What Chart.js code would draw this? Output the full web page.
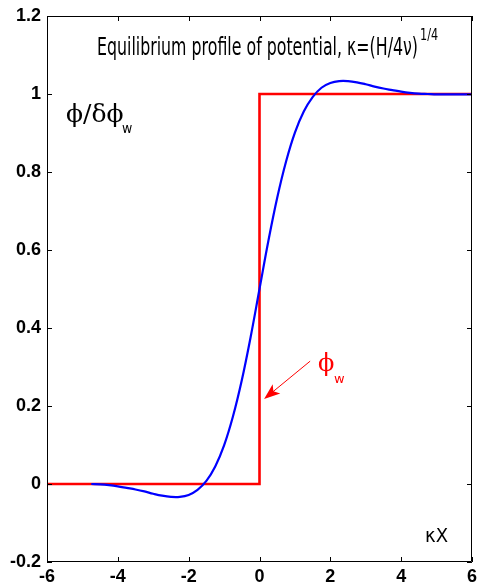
<!DOCTYPE html>
<html>
<head>
<meta charset="utf-8">
<script src="https://cdn.jsdelivr.net/npm/chart.js@4/dist/chart.umd.min.js"></script>
<style>
  html, body { margin: 0; padding: 0; background: #fff; }
  #wrap { width: 478px; height: 584px; }
</style>
</head>
<body>
<div id="wrap"><canvas id="chart"></canvas></div>
<script>
// Blue curve: potential profile
const profileX = [-4.75, -4.5, -4.25, -4, -3.75, -3.5, -3.25, -3, -2.75, -2.5, -2.25, -2, -1.75, -1.5, -1.25, -1, -0.75, -0.5, -0.25,
                  0, 0.25, 0.5, 0.75, 1, 1.25, 1.5, 1.75, 2, 2.25, 2.5, 2.75, 3, 3.25, 3.5, 3.75, 4, 4.25, 4.5, 4.75, 5, 5.5, 6];
const profileY = [0.000, -0.001, -0.003, -0.006, -0.010, -0.014, -0.019, -0.025, -0.030, -0.033, -0.033, -0.028, -0.015, 0.008, 0.045, 0.099, 0.173, 0.266, 0.377,
                  0.500, 0.623, 0.734, 0.827, 0.901, 0.955, 0.992, 1.016, 1.028, 1.033, 1.033, 1.030, 1.025, 1.019, 1.014, 1.010, 1.006, 1.003, 1.001, 1.000, 0.999, 0.999, 0.999];

// Red step: wall potential
const stepX = [-6, 0, 0, 6];
const stepY = [0, 0, 1, 1];

const xTicks = [-6, -4, -2, 0, 2, 4, 6];
const yTicks = [-0.2, 0, 0.2, 0.4, 0.6, 0.8, 1, 1.2];
const xTickLabels = ['-6', '-4', '-2', '0', '2', '4', '6'];
const yTickLabels = ['-0.2', '0', '0.2', '0.4', '0.6', '0.8', '1', '1.2'];

const toPoints = (xs, ys) => xs.map((x, i) => ({ x: x, y: ys[i] }));

// box, inward tick marks on all four sides, tick labels and the text labels
const decorations = {
    id: 'decorations',
    afterDraw(chart) {
        const ctx = chart.ctx;
        const a = chart.chartArea;
        const sx = chart.scales.x, sy = chart.scales.y;
        ctx.save();
        ctx.strokeStyle = '#000';
        ctx.lineWidth = 1;
        ctx.beginPath();
        ctx.rect(a.left + 0.5, a.top + 0.5, a.right - a.left - 1, a.bottom - a.top - 1);
        xTicks.forEach(v => {
            const px = Math.round(sx.getPixelForValue(v)) + 0.5;
            ctx.moveTo(px, a.bottom); ctx.lineTo(px, a.bottom - 5);
            ctx.moveTo(px, a.top); ctx.lineTo(px, a.top + 5);
        });
        yTicks.forEach(v => {
            const py = Math.round(sy.getPixelForValue(v)) + 0.5;
            ctx.moveTo(a.left, py); ctx.lineTo(a.left + 5, py);
            ctx.moveTo(a.right, py); ctx.lineTo(a.right - 5, py);
        });
        ctx.stroke();

        // tick labels
        ctx.fillStyle = '#000';
        ctx.font = 'bold 18px "Liberation Sans"';
        ctx.textAlign = 'right';
        ctx.textBaseline = 'middle';
        yTicks.forEach((v, i) => {
            ctx.fillText(yTickLabels[i], a.left - 6, sy.getPixelForValue(v));
        });
        ctx.textAlign = 'center';
        ctx.textBaseline = 'alphabetic';
        xTicks.forEach((v, i) => {
            ctx.fillText(xTickLabels[i], sx.getPixelForValue(v), a.bottom + 20);
        });
        ctx.textAlign = 'left';

        // title, condensed
        ctx.font = '25px "DejaVu Sans"';
        const title = 'Equilibrium profile of potential, \u03ba=(H/4\u03bd)';
        const w = ctx.measureText(title).width;
        const target = 321;
        ctx.save();
        ctx.translate(97, 55);
        ctx.scale(target / w, 1);
        ctx.fillText(title, 0, 0);
        ctx.restore();
        ctx.save();
        ctx.font = '15px "DejaVu Sans"';
        ctx.translate(420, 40);
        ctx.scale(0.75, 1);
        ctx.fillText('1/4', 0, 0);
        ctx.restore();

        // y label
        ctx.font = '25px "DejaVu Serif"';
        ctx.fillText('\u03d5/\u03b4\u03d5', 66, 122);
        ctx.font = '14px "DejaVu Sans"';
        ctx.save();
        ctx.translate(122, 133);
        ctx.scale(0.9, 1);
        ctx.fillText('w', 0, 0);
        ctx.restore();

        // x label
        ctx.font = '19px "DejaVu Sans"';
        ctx.save();
        ctx.translate(425, 542);
        ctx.scale(0.95, 1);
        ctx.fillText('\u03baX', 0, 0);
        ctx.restore();

        // phi_w annotation with arrow
        ctx.fillStyle = '#ff0000';
        ctx.strokeStyle = '#ff0000';
        ctx.font = '24px "DejaVu Serif"';
        ctx.fillText('\u03d5', sx.getPixelForValue(1.65), sy.getPixelForValue(0.29));
        ctx.font = '13px "DejaVu Sans"';
        ctx.fillText('w', sx.getPixelForValue(2.1), sy.getPixelForValue(0.26));
        const x0 = sx.getPixelForValue(1.43), y0 = sy.getPixelForValue(0.315);
        const x1 = sx.getPixelForValue(0.13), y1 = sy.getPixelForValue(0.218);
        const ang = Math.atan2(y1 - y0, x1 - x0);
        ctx.lineWidth = 1;
        ctx.beginPath();
        ctx.moveTo(x0, y0);
        ctx.lineTo(x1 - 10 * Math.cos(ang), y1 - 10 * Math.sin(ang));
        ctx.stroke();
        ctx.beginPath();
        ctx.moveTo(x1, y1);
        ctx.lineTo(x1 - 16 * Math.cos(ang) + 6 * Math.sin(ang), y1 - 16 * Math.sin(ang) - 6 * Math.cos(ang));
        ctx.lineTo(x1 - 12 * Math.cos(ang), y1 - 12 * Math.sin(ang));
        ctx.lineTo(x1 - 16 * Math.cos(ang) - 6 * Math.sin(ang), y1 - 16 * Math.sin(ang) + 6 * Math.cos(ang));
        ctx.closePath();
        ctx.fill();
        ctx.restore();
    }
};

new Chart(document.getElementById('chart'), {
    type: 'line',
    data: {
        datasets: [
            {
                label: 'profile',
                data: toPoints(profileX, profileY),
                borderColor: '#0000ff',
                borderWidth: 2.2,
                pointRadius: 0,
                tension: 0.4,
                fill: false
            },
            {
                label: 'step',
                data: toPoints(stepX, stepY),
                borderColor: '#ff0000',
                borderWidth: 2.6,
                pointRadius: 0,
                tension: 0,
                fill: false
            }
        ]
    },
    options: {
        responsive: true,
        maintainAspectRatio: false,
        animation: false,
        layout: { padding: { top: 16, right: 6, left: 0, bottom: 0 } },
        plugins: {
            legend: { display: false },
            tooltip: { enabled: false }
        },
        scales: {
            x: {
                type: 'linear',
                min: -6,
                max: 6,
                afterFit: s => { s.height = 22; },
                grid: { display: false, drawTicks: false },
                border: { display: false },
                ticks: { display: false }
            },
            y: {
                type: 'linear',
                min: -0.2,
                max: 1.2,
                afterFit: s => { s.width = 47; },
                grid: { display: false, drawTicks: false },
                border: { display: false },
                ticks: { display: false }
            }
        }
    },
    plugins: [decorations]
});
</script>
</body>
</html>
